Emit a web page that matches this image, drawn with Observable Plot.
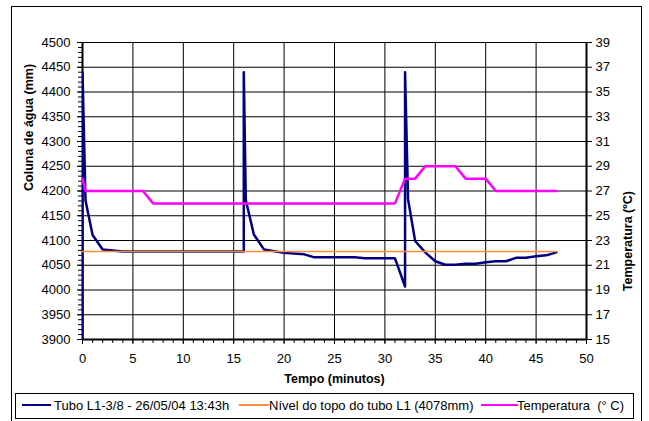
<!DOCTYPE html>
<html>
<head>
<meta charset="utf-8">
<script src="https://cdn.jsdelivr.net/npm/d3@7"></script>
<script src="https://cdn.jsdelivr.net/npm/@observablehq/plot@0.6"></script>
<style>
  html, body { margin: 0; padding: 0; background: #fff; }
  #wrap { position: relative; width: 649px; height: 421px; overflow: hidden; font-family: "Liberation Sans", Arial, sans-serif; }
  #frame { position: absolute; left: 11px; top: 6px; width: 631px; height: 440px; border: 1px solid #000; box-sizing: border-box; }
  #legend { position: absolute; left: 15px; top: 393px; width: 619px; height: 26px; border: 1px solid #000; box-sizing: border-box; background: #fff; font-size: 13px; }
  .sw { position: absolute; }
  .lt { position: absolute; top: 4px; white-space: pre; color: #000; }
  #chart { position: absolute; left: 0; top: 0; }
</style>
</head>
<body>
<div id="wrap">
  <div id="frame"></div>
  <div id="chart"></div>
  <div id="legend"></div>
</div>
<script>
// --- data ---
const tubeTime = [0, 0, 0.3, 1, 2, 4, 16, 16, 16.2, 17, 18, 20, 22, 23, 27, 28, 31, 32, 32, 32.3, 33, 34, 35, 36, 37, 38, 39, 40, 41, 42, 43, 44, 45, 46, 47];
const tubeVal  = [3900, 4440, 4181, 4111, 4082, 4078, 4078, 4440, 4182, 4112, 4082, 4075, 4072, 4066, 4066, 4064, 4064, 4007, 4440, 4183, 4099, 4076, 4058, 4051, 4051, 4053, 4053, 4056, 4058, 4058, 4065, 4065, 4068, 4070, 4076];
const levelTime = [0, 47];
const levelVal  = [4078, 4078];
const tempTime = [0, 0.3, 6, 7, 31, 32, 33, 34, 37, 38, 40, 41, 47];
const tempVal  = [28, 27, 27, 26, 26, 28, 28, 29, 29, 28, 28, 27, 27];

const xTicks = [0, 5, 10, 15, 20, 25, 30, 35, 40, 45, 50];
const yTicks = [3900, 3950, 4000, 4050, 4100, 4150, 4200, 4250, 4300, 4350, 4400, 4450, 4500];
const tempTicks = [15, 17, 19, 21, 23, 25, 27, 29, 31, 33, 35, 37, 39];

const seriesNames = ["Tubo L1-3/8 - 26/05/04 13:43h", "Nível do topo do tubo L1 (4078mm)", "Temperatura  (° C)"];
const seriesColors = ["#000080", "#ff8c3c", "#ff00ff"];
const xLabel = "Tempo (minutos)";
const yLabel = "Coluna de água (mm)";
const y2Label = "Temperatura (ºC)";

// secondary axis mapping (°C -> left-axis units)
const tMin = 15, tMax = 39, yMin = 3900, yMax = 4500;
const t2y = T => yMin + (T - tMin) * (yMax - yMin) / (tMax - tMin);
const y2t = v => Math.round(tMin + (v - yMin) * (tMax - tMin) / (yMax - yMin));

const tube = tubeTime.map((t, i) => ({t, v: tubeVal[i]}));
const level = levelTime.map((t, i) => ({t, v: levelVal[i]}));
const temp = tempTime.map((t, i) => ({t, v: t2y(tempVal[i])}));

const xMinor = d3.range(0, 51, 1);
const yMinor = d3.range(3900, 4501, 10);

const chart = Plot.plot({
  width: 649,
  height: 421,
  marginLeft: 82,
  marginRight: 63,
  marginTop: 42,
  marginBottom: 82,
  style: {fontFamily: "'Liberation Sans', Arial, sans-serif", fontSize: "13px", background: "transparent", color: "#000"},
  x: {domain: [0, 50]},
  y: {domain: [3900, 4500]},
  marks: [
    Plot.ruleY(yTicks, {stroke: "#000", strokeWidth: 1}),
    Plot.ruleX(xTicks, {stroke: "#000", strokeWidth: 1}),
    Plot.ruleX([0, 50], {stroke: "#000", strokeWidth: 2}),
    Plot.ruleY([3900], {stroke: "#000", strokeWidth: 2}),
    Plot.axisY({ticks: yMinor, tickSize: 4, tickFormat: () => "", label: null, stroke: "#000"}),
    Plot.axisY({ticks: yTicks, tickSize: 5, tickPadding: 7, label: null, tickFormat: d => String(d), stroke: "#000"}),
    Plot.axisY({anchor: "right", ticks: tempTicks.map(t2y), tickSize: 5, tickPadding: 4, label: null, tickFormat: v => String(y2t(v)), stroke: "#000"}),
    Plot.axisX({ticks: xMinor, tickSize: 4, tickFormat: () => "", label: null, stroke: "#000"}),
    Plot.axisX({ticks: xTicks, tickSize: 5, tickPadding: 9, label: null, tickFormat: d => String(d), stroke: "#000"}),
    Plot.line(tube, {x: "t", y: "v", stroke: seriesColors[0], strokeWidth: 2.5, clip: true}),
    Plot.line(level, {x: "t", y: "v", stroke: seriesColors[1], strokeWidth: 1.5}),
    Plot.line(temp, {x: "t", y: "v", stroke: seriesColors[2], strokeWidth: 2.5}),
    Plot.text([yLabel], {text: d => d, frameAnchor: "left", dx: -54, rotate: -90, fontWeight: "bold", fontSize: 12.5}),
    Plot.text([y2Label], {text: d => d, frameAnchor: "right", dx: 41, rotate: -90, fontWeight: "bold", fontSize: 12.5}),
    Plot.text([xLabel], {text: d => d, frameAnchor: "bottom", dy: 43, fontWeight: "bold", fontSize: 12.5})
  ]
});
document.getElementById("chart").appendChild(chart);

// legend
const legend = document.getElementById("legend");
const swatches = [
  {x1: 6, x2: 35, w: 2.5, text: 41},
  {x1: 223, x2: 253, w: 1.5, text: 256},
  {x1: 465, x2: 502, w: 2.5, text: 504}
];
seriesNames.forEach((name, i) => {
  const s = swatches[i];
  const sw = document.createElement("div");
  sw.className = "sw";
  sw.style.left = s.x1 + "px";
  sw.style.width = (s.x2 - s.x1) + "px";
  sw.style.top = (11 - s.w / 2) + "px";
  sw.style.height = s.w + "px";
  sw.style.background = seriesColors[i];
  legend.appendChild(sw);
  const lt = document.createElement("span");
  lt.className = "lt";
  lt.style.left = (s.text - 3) + "px";
  lt.textContent = name;
  legend.appendChild(lt);
});
</script>
</body>
</html>
